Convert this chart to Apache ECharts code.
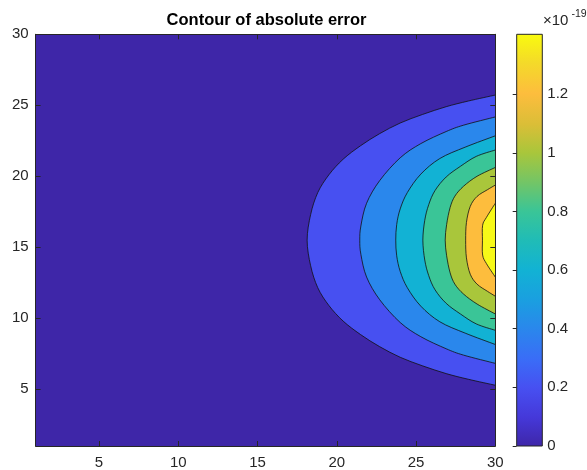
<!DOCTYPE html>
<html>
<head>
<meta charset="utf-8">
<script src="https://cdn.jsdelivr.net/npm/echarts@6/dist/echarts.min.js"></script>
<style>
html,body{margin:0;padding:0;background:#fff;}
#chart{width:587px;height:470px;}
</style>
</head>
<body>
<div id="chart"></div>
<script>
// ---- data ----
const xTicks = [5, 10, 15, 20, 25, 30];
const yTicks = [5, 10, 15, 20, 25, 30];
const cbTicks = [0, 0.2, 0.4, 0.6, 0.8, 1, 1.2];
const cbMax = 1.404;            // colorbar top (x 1e-19)
const levels = [0.2, 0.4, 0.6, 0.8, 1.0, 1.2, 1.4];

// contour lines [x, y], from top edge round the tip to bottom edge
const contour02 = [[30,25.72],[28.3,25.3],[26.9,24.9],[25.4,24.35],[24.0,23.75],[22.7,23.0],[21.5,22.15],[20.4,21.2],[19.5,20.1],[18.8,18.85],[18.35,17.3],[18.13,15.5],
                   [18.35,13.7],[18.8,12.15],[19.5,10.9],[20.4,9.8],[21.5,8.85],[22.7,8.0],[24.0,7.25],[25.4,6.65],[26.9,6.1],[28.3,5.7],[30,5.28]];
const contour04 = [[30,24.18],[28,23.6],[26.9,23.15],[25.3,22.3],[24.0,21.3],[22.71,19.7],[21.88,18.1],[21.52,16.5],[21.45,15.5],
                   [21.52,14.5],[21.88,12.9],[22.71,11.3],[24.0,9.7],[25.3,8.7],[26.9,7.85],[28,7.4],[30,6.82]];
const contour06 = [[30,22.85],[28.1,22.05],[26.5,21.25],[25.3,20.15],[24.45,18.85],[24.0,17.7],[23.78,16.6],[23.72,15.5],
                   [23.78,14.4],[24.0,13.3],[24.45,12.15],[25.3,10.85],[26.5,9.75],[28.1,8.95],[30,8.15]];
const contour08 = [[30,21.85],[28.8,21.4],[27.8,20.7],[26.9,19.95],[26.2,19.0],[25.8,18.0],[25.55,16.9],[25.43,15.5],
                   [25.55,14.1],[25.8,13.0],[26.2,12.0],[26.9,11.05],[27.8,10.3],[28.8,9.6],[30,9.15]];
const contour10 = [[30,20.62],[28.85,20.0],[28.0,19.3],[27.45,18.6],[27.15,17.8],[26.93,16.6],[26.84,15.5],
                   [26.93,14.4],[27.15,13.2],[27.45,12.4],[28.0,11.7],[28.85,11.0],[30,10.3]];
const contour12 = [[30,19.38],[29.5,19.05],[28.85,18.58],[28.42,17.88],[28.18,16.75],[28.13,15.5],
                   [28.18,14.25],[28.42,13.1],[28.85,12.4],[29.5,11.9],[30,11.55]];
const contour14 = [[30,18.1],[29.44,17.1],[29.2,16.55],[29.19,15.5],
                   [29.2,14.45],[29.44,13.85],[30,12.9]];
const contours = [contour02, contour04, contour06, contour08, contour10, contour12, contour14];

// ---- styles ----
const bgColor = '#3e26a8';
const bandColors = ['#4750f1', '#2a87ec', '#12b2d4', '#3ac597', '#a9c63b', '#fdbd3d', '#f7f918'];
const parulaStops = [
  [0.00, '#3e26a8'], [0.07, '#4538d9'], [0.142, '#4750f1'], [0.21, '#3a6cf7'],
  [0.285, '#2a87ec'], [0.355, '#1a9fe0'], [0.427, '#12b2d4'], [0.50, '#20bcb6'],
  [0.57, '#3ac597'], [0.64, '#73c566'], [0.712, '#a9c63b'], [0.78, '#dabe37'],
  [0.855, '#fdbd3d'], [0.93, '#f4da29'], [1.00, '#f9fb0e']
];
const FONT = '"Liberation Sans", Arial, Helvetica, sans-serif';
const AX = '#262626';

// smooth open curve through pixel points (Catmull-Rom as cubic Bezier)
function smoothPath(pts, close) {
  const n = pts.length;
  let d = 'M' + pts[0][0] + ',' + pts[0][1];
  for (let i = 0; i < n - 1; i++) {
    const p0 = pts[Math.max(i - 1, 0)], p1 = pts[i], p2 = pts[i + 1], p3 = pts[Math.min(i + 2, n - 1)];
    const c1x = p1[0] + (p2[0] - p0[0]) / 6, c1y = p1[1] + (p2[1] - p0[1]) / 6;
    const c2x = p2[0] - (p3[0] - p1[0]) / 6, c2y = p2[1] - (p3[1] - p1[1]) / 6;
    d += ' C' + c1x + ',' + c1y + ' ' + c2x + ',' + c2y + ' ' + p2[0] + ',' + p2[1];
  }
  if (close) d += ' Z';
  return d;
}

const chart = echarts.init(document.getElementById('chart'), null, {renderer: 'canvas'});

const mainAxisCommon = {
  type: 'value', min: 1, max: 30, gridIndex: 0, z: 10,
  axisLine: {show: true, onZero: false, lineStyle: {color: AX, width: 1}},
  splitLine: {show: false}
};

const option = {
  animation: false,
  backgroundColor: '#ffffff',
  grid: [
    {left: 35.6, top: 34.3, width: 459.7, height: 411.7},
    {left: 516.7, top: 34.3, width: 25.6, height: 411.7}
  ],
  xAxis: [
    Object.assign({}, mainAxisCommon, {
      position: 'bottom',
      axisTick: {show: true, inside: true, length: 5, customValues: xTicks, lineStyle: {color: AX}},
      axisLabel: {show: true, customValues: xTicks, fontSize: 15, color: AX, fontFamily: FONT, margin: 9}
    }),
    Object.assign({}, mainAxisCommon, {
      position: 'top',
      axisTick: {show: true, inside: true, length: 5, customValues: xTicks, lineStyle: {color: AX}},
      axisLabel: {show: false}
    }),
    {type: 'value', gridIndex: 1, min: 0, max: 1, show: false}
  ],
  yAxis: [
    Object.assign({}, mainAxisCommon, {
      position: 'left',
      axisTick: {show: true, inside: true, length: 5, customValues: yTicks, lineStyle: {color: AX}},
      axisLabel: {show: true, customValues: yTicks, fontSize: 15, color: AX, fontFamily: FONT, margin: 7}
    }),
    Object.assign({}, mainAxisCommon, {
      position: 'right',
      axisTick: {show: true, inside: true, length: 5, customValues: yTicks, lineStyle: {color: AX}},
      axisLabel: {show: false}
    }),
    {
      type: 'value', gridIndex: 1, min: 0, max: cbMax, position: 'right', z: 10,
      axisLine: {show: false},
      splitLine: {show: false},
      axisTick: {show: true, inside: true, length: 4, customValues: cbTicks, lineStyle: {color: AX}},
      axisLabel: {show: true, customValues: cbTicks, fontSize: 15, color: AX, fontFamily: FONT, margin: 5}
    }
  ],
  series: [
    {
      type: 'custom',
      xAxisIndex: 0, yAxisIndex: 0,
      clip: true,
      silent: true,
      data: [0].concat(levels).map(function (v) { return [v]; }),
      renderItem: function (params, api) {
        const i = params.dataIndex;
        if (i === 0) {
          const p0 = api.coord([1, 30]);
          const p1 = api.coord([30, 1]);
          return {type: 'rect', shape: {x: p0[0], y: p0[1], width: p1[0] - p0[0], height: p1[1] - p0[1]},
                  style: {fill: bgColor}};
        }
        const pts = contours[i - 1].map(function (p) { return api.coord(p); });
        return {
          type: 'group',
          children: [
            {type: 'path', shape: {pathData: smoothPath(pts, true)}, style: {fill: bandColors[i - 1]}},
            {type: 'path', shape: {pathData: smoothPath(pts, false)}, style: {fill: null, stroke: '#111', lineWidth: 0.8}}
          ]
        };
      }
    },
    {
      type: 'custom',
      xAxisIndex: 2, yAxisIndex: 2,
      silent: true,
      data: [[0, cbMax]],
      renderItem: function (params, api) {
        const p0 = api.coord([0, cbMax]);
        const p1 = api.coord([1, 0]);
        const stops = parulaStops.map(function (s) { return {offset: s[0], color: s[1]}; });
        return {
          type: 'rect',
          shape: {x: p0[0], y: p0[1], width: p1[0] - p0[0], height: p1[1] - p0[1]},
          style: {fill: new echarts.graphic.LinearGradient(0, 1, 0, 0, stops), stroke: AX, lineWidth: 1}
        };
      }
    }
  ],
  graphic: [
    {type: 'text', x: 266.5, y: 20.5, z: 20,
     style: {text: 'Contour of absolute error', align: 'center', verticalAlign: 'middle',
             fontSize: 16.5, fontWeight: 'bold', fontFamily: FONT, fill: '#000'}},
    {type: 'text', x: 543, y: 21, z: 20,
     style: {text: '×10', align: 'left', verticalAlign: 'middle', fontSize: 15, fontFamily: FONT, fill: AX}},
    {type: 'text', x: 571.5, y: 14, z: 20,
     style: {text: '-19', align: 'left', verticalAlign: 'middle', fontSize: 10.5, fontFamily: FONT, fill: AX}}
  ]
};

chart.setOption(option);
</script>
</body>
</html>
